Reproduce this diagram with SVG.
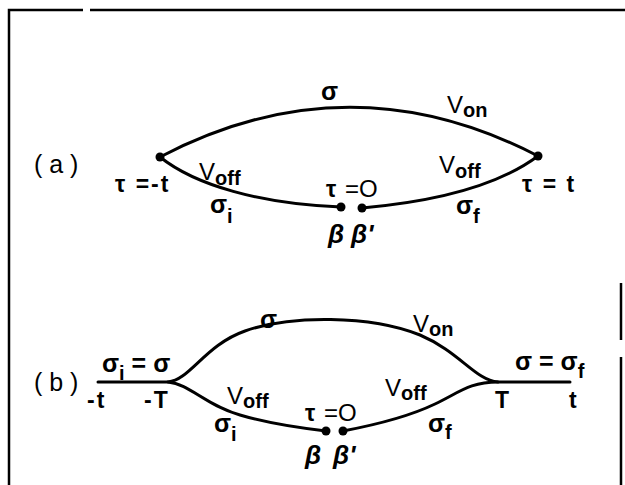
<svg xmlns="http://www.w3.org/2000/svg" width="625" height="485" viewBox="0 0 625 485">
<style>
.frame{stroke:#000;stroke-width:2.5;fill:none}
.edge{stroke:#000;stroke-width:3;fill:none;stroke-linecap:round}
.dot{fill:#000}
text{font-family:"Liberation Sans","DejaVu Sans",Arial,sans-serif;font-size:24px;fill:#000}
.sub{font-size:20px;font-weight:bold}
.g{font-size:25px;font-weight:bold}
.b{font-style:italic;font-size:26px;font-weight:bold}
.sm{font-size:23px;font-weight:bold;letter-spacing:2px}
.lbl{font-size:25px}
</style>
<rect width="625" height="485" fill="#fff"/>
<g id="frame">
<path class="frame" d="M9,485 V10 H83 M90,10 H625"/>
<path class="frame" d="M621,283 V340 M621,357 V485" stroke-width="2"/>
</g>
<g id="connectors">
<path class="edge" d="M160,157 Q349,58 538,156"/>
<path class="edge" d="M160,157 C195,185 260,204 341,207"/>
<path class="edge" d="M362,208 C430,202 495,188 538,156"/>
<path class="edge" d="M98,382 H168 C190,380 205,345 245,331 C290,315 370,315 420,335 C460,352 475,380 498,382 H570"/>
<path class="edge" d="M168,382 C190,384 205,405 240,415 C270,424 300,428 326,431"/>
<path class="edge" d="M343,431 C380,424 410,416 435,404 C460,392 470,382 498,382"/>
</g>
<g id="a-label"><text class="lbl" x="34" y="173">( a )</text></g>
<g id="a-left"><circle class="dot" cx="160" cy="157" r="4.5"/><text class="sm" x="115" y="192">τ =-t</text></g>
<g id="a-right"><circle class="dot" cx="538" cy="156" r="4.5"/><text class="sm" x="522" y="192">τ = t</text></g>
<g id="a-beta"><circle class="dot" cx="341" cy="207" r="4.5"/><text class="b" x="328" y="243">β</text></g>
<g id="a-betap"><circle class="dot" cx="362" cy="208" r="4.5"/><text class="b" x="351" y="243">β'</text></g>
<g id="a-tau0"><text x="326" y="197"><tspan class="sm">τ</tspan> =O</text></g>
<g id="a-sigma"><text class="g" x="321" y="100">σ</text></g>
<g id="a-von"><text x="447" y="113">V<tspan class="sub" dy="4">on</tspan></text></g>
<g id="a-voff-l"><text x="199" y="180">V<tspan class="sub" dy="5">off</tspan></text></g>
<g id="a-voff-r"><text x="439" y="173">V<tspan class="sub" dy="5">off</tspan></text></g>
<g id="a-sigmai"><text class="g" x="210" y="213">σ<tspan class="sub" dy="10">i</tspan></text></g>
<g id="a-sigmaf"><text class="g" x="456" y="214">σ<tspan class="sub" dy="9">f</tspan></text></g>

<g id="b-label"><text class="lbl" x="34" y="391">( b )</text></g>
<g id="b-left"><text class="g" x="102" y="372">σ<tspan class="sub" dy="8">i</tspan><tspan dy="-8"> = σ</tspan></text><text class="sm" x="87" y="408">-t</text><text class="sm" x="144" y="408">-T</text></g>
<g id="b-right"><text class="g" x="515" y="370">σ = σ<tspan class="sub" dy="8">f</tspan></text><text class="sm" x="495" y="408">T</text><text class="sm" x="569" y="408">t</text></g>
<g id="b-beta"><circle class="dot" cx="326" cy="431" r="4.5"/><text class="b" x="305" y="464">β</text></g>
<g id="b-betap"><circle class="dot" cx="343" cy="431" r="4.5"/><text class="b" x="333" y="464">β'</text></g>
<g id="b-tau0"><text x="305" y="421"><tspan class="sm">τ</tspan> =O</text></g>
<g id="b-sigma"><text class="g" x="260" y="328">σ</text></g>
<g id="b-von"><text x="413" y="332">V<tspan class="sub" dy="4">on</tspan></text></g>
<g id="b-voff-l"><text x="227" y="404">V<tspan class="sub" dy="4">off</tspan></text></g>
<g id="b-voff-r"><text x="385" y="396">V<tspan class="sub" dy="4">off</tspan></text></g>
<g id="b-sigmai"><text class="g" x="214" y="432">σ<tspan class="sub" dy="9">i</tspan></text></g>
<g id="b-sigmaf"><text class="g" x="428" y="432">σ<tspan class="sub" dy="7">f</tspan></text></g>
</svg>
